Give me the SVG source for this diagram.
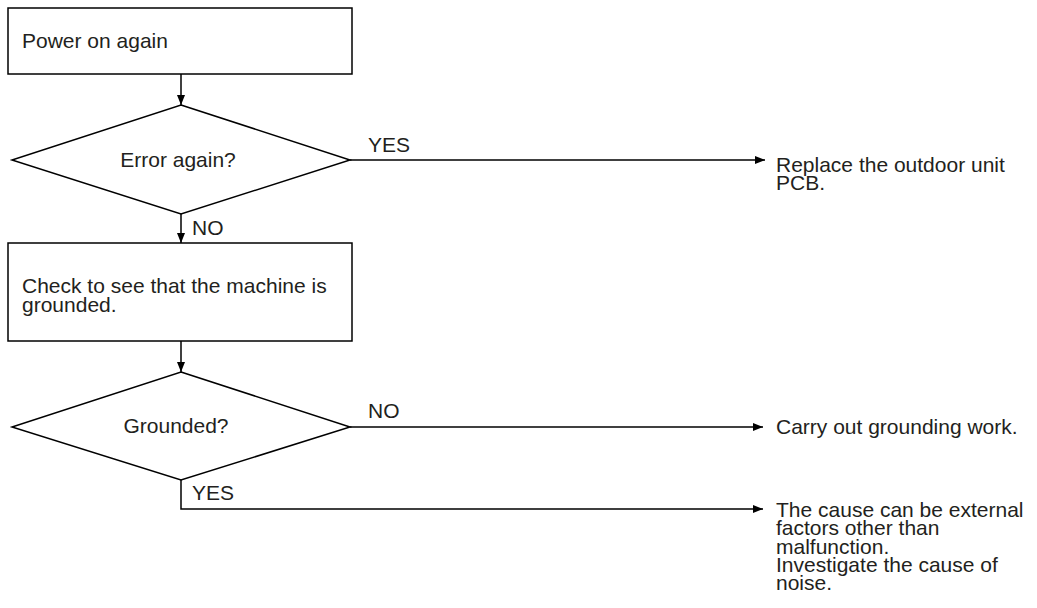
<svg xmlns="http://www.w3.org/2000/svg" width="1037" height="608" viewBox="0 0 1037 608">
<style>
.box{fill:#fff;stroke:#000;stroke-width:1.5}
.t{font-family:"Liberation Sans",Arial,sans-serif;font-size:21px;fill:#231f20}
.ln{fill:none;stroke:#000;stroke-width:1.5}
</style>
<defs>
<marker id="ah" viewBox="0 0 10 8" refX="10" refY="4" markerWidth="10" markerHeight="8" markerUnits="userSpaceOnUse" orient="auto">
<path d="M0,0 L10,4 L0,8 Z" fill="#000"/>
</marker>
</defs>
<rect width="1037" height="608" fill="#fff"/>
<g id="n1">
<rect class="box" x="8" y="8" width="344" height="66"/>
<text class="t" x="22" y="48">Power on again</text>
</g>
<g id="d1">
<polygon class="box" points="181,105 350,160 181,214 12,160"/>
<text class="t" x="178" y="167" text-anchor="middle">Error again?</text>
</g>
<g id="n2">
<rect class="box" x="8" y="243" width="344" height="98"/>
<text class="t" x="22" y="293">Check to see that the machine is<tspan x="22" dy="19">grounded.</tspan></text>
</g>
<g id="d2">
<polygon class="box" points="181,372 350,427 181,480 12,427"/>
<text class="t" x="176" y="433" text-anchor="middle">Grounded?</text>
</g>
<g id="r1">
<text class="t" x="776" y="172">Replace the outdoor unit<tspan x="776" dy="18">PCB.</tspan></text>
</g>
<g id="r2">
<text class="t" x="776" y="434">Carry out grounding work.</text>
</g>
<g id="r3">
<text class="t" x="776" y="517">The cause can be external<tspan x="776" dy="18.3">factors other than</tspan><tspan x="776" dy="18.3">malfunction.</tspan><tspan x="776" dy="18.3">Investigate the cause of</tspan><tspan x="776" dy="18.3">noise.</tspan></text>
</g>
<g id="connectors">
<path class="ln" d="M181,74 V105" marker-end="url(#ah)"/>
<path class="ln" d="M350,160 H765" marker-end="url(#ah)"/>
<path class="ln" d="M181,214 V243" marker-end="url(#ah)"/>
<path class="ln" d="M181,341 V372" marker-end="url(#ah)"/>
<path class="ln" d="M350,427 H763" marker-end="url(#ah)"/>
<path class="ln" d="M181,480 V509 H763" marker-end="url(#ah)"/>
<text class="t" x="368" y="152">YES</text>
<text class="t" x="192" y="235">NO</text>
<text class="t" x="368" y="418">NO</text>
<text class="t" x="192" y="500">YES</text>
</g>
</svg>
